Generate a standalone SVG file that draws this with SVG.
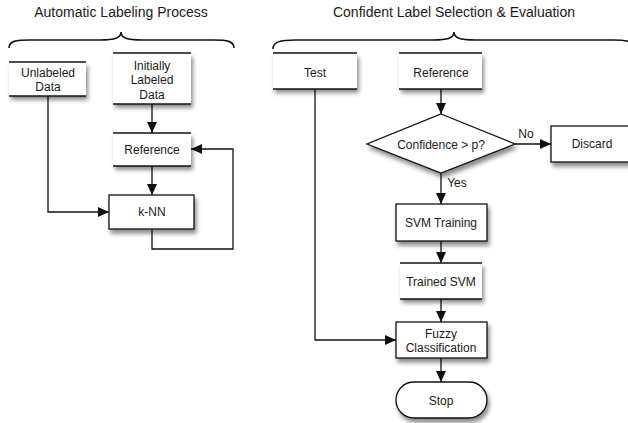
<svg xmlns="http://www.w3.org/2000/svg" width="628" height="423" viewBox="0 0 628 423">
<style>
text{font-family:"Liberation Sans",Arial,sans-serif;fill:#1a1a1a;text-anchor:middle}
.t{font-size:14px}
.n{font-size:12px}
.box{fill:#fff;stroke:#111;stroke-width:1.3}
.ds{fill:#fff;stroke:none}
.dl{stroke:#111;stroke-width:1.3}
.c{fill:none;stroke:#111;stroke-width:1.3}
.br{fill:none;stroke:#111;stroke-width:1.6}
</style>
<defs>
<filter id="sh" x="-20%" y="-20%" width="150%" height="160%">
<feDropShadow dx="2" dy="4" stdDeviation="2" flood-color="#000" flood-opacity="0.45"/>
</filter>
<marker id="ah" markerUnits="userSpaceOnUse" markerWidth="12" markerHeight="10" refX="11" refY="5" orient="auto">
<path d="M0,0 L11,5 L0,10 Z" fill="#111"/>
</marker>
</defs>
<text class="t" x="121" y="17">Automatic Labeling Process</text>
<text class="t" x="454" y="17">Confident Label Selection &amp; Evaluation</text>
<path class="br" d="M9,48 C9,41 16,40 30,40 L100,40 C115,40 121,38 121,32 C121,38 127,40 142,40 L213,40 C227,40 234,41 234,48"/>
<path class="br" d="M273,49 C273,42 280,40 295,40 L433,40 C448,40 454,38 454,32 C454,38 460,40 475,40 L613,40 C628,40 635,42 635,49"/>
<g id="connectors">
<path class="c" d="M48,96 V212 H109" marker-end="url(#ah)"/>
<path class="c" d="M152,104 V133" marker-end="url(#ah)"/>
<path class="c" d="M152,166 V195" marker-end="url(#ah)"/>
<path class="c" d="M152,229 V249 H233 V149 H191" marker-end="url(#ah)"/>
<path class="c" d="M441,89 V114" marker-end="url(#ah)"/>
<path class="c" d="M515,144 H551" marker-end="url(#ah)"/>
<path class="c" d="M441,173 V204" marker-end="url(#ah)"/>
<path class="c" d="M441,241 V263" marker-end="url(#ah)"/>
<path class="c" d="M441,299 V322" marker-end="url(#ah)"/>
<path class="c" d="M441,358 V382" marker-end="url(#ah)"/>
<path class="c" d="M315,89 V340 H396" marker-end="url(#ah)"/>
<text class="n" x="526" y="138">No</text>
<text class="n" x="457" y="187">Yes</text>
</g>
<g id="unlabeled">
<rect class="ds" x="9" y="62" width="77" height="34" filter="url(#sh)"/>
<line class="dl" x1="9" y1="62" x2="86" y2="62"/><line class="dl" x1="9" y1="96" x2="86" y2="96"/>
<text class="n" x="48" y="77">Unlabeled</text><text class="n" x="48" y="91">Data</text>
</g>
<g id="initial">
<rect class="ds" x="113" y="53" width="78" height="51" filter="url(#sh)"/>
<line class="dl" x1="113" y1="53" x2="191" y2="53"/><line class="dl" x1="113" y1="104" x2="191" y2="104"/>
<text class="n" x="152" y="70">Initially</text><text class="n" x="152" y="84">Labeled</text><text class="n" x="152" y="99">Data</text>
</g>
<g id="reference-left">
<rect class="ds" x="113" y="133" width="78" height="33" filter="url(#sh)"/>
<line class="dl" x1="113" y1="133" x2="191" y2="133"/><line class="dl" x1="113" y1="166" x2="191" y2="166"/>
<text class="n" x="152" y="154">Reference</text>
</g>
<g id="knn">
<rect class="box" x="109" y="195" width="85" height="34" filter="url(#sh)"/>
<text class="n" x="152" y="216">k-NN</text>
</g>
<g id="test">
<rect class="ds" x="273" y="53" width="84" height="36" filter="url(#sh)"/>
<line class="dl" x1="273" y1="53" x2="357" y2="53"/><line class="dl" x1="273" y1="89" x2="357" y2="89"/>
<text class="n" x="315" y="77">Test</text>
</g>
<g id="reference-right">
<rect class="ds" x="399" y="53" width="83" height="36" filter="url(#sh)"/>
<line class="dl" x1="399" y1="53" x2="482" y2="53"/><line class="dl" x1="399" y1="89" x2="482" y2="89"/>
<text class="n" x="441" y="77">Reference</text>
</g>
<g id="decision">
<polygon class="box" points="441,114 515,144 441,173 367,144" filter="url(#sh)"/>
<text class="n" x="441" y="149">Confidence &gt; p?</text>
</g>
<g id="discard">
<rect class="box" x="551" y="126" width="83" height="36" filter="url(#sh)"/>
<text class="n" x="592" y="148">Discard</text>
</g>
<g id="svm-training">
<rect class="box" x="396" y="204" width="91" height="37" filter="url(#sh)"/>
<text class="n" x="441" y="227">SVM Training</text>
</g>
<g id="trained-svm">
<rect class="ds" x="400" y="263" width="82" height="36" filter="url(#sh)"/>
<line class="dl" x1="400" y1="263" x2="482" y2="263"/><line class="dl" x1="400" y1="299" x2="482" y2="299"/>
<text class="n" x="441" y="286">Trained SVM</text>
</g>
<g id="fuzzy">
<rect class="box" x="396" y="322" width="91" height="36" filter="url(#sh)"/>
<text class="n" x="441" y="338">Fuzzy</text><text class="n" x="441" y="352">Classification</text>
</g>
<g id="stop">
<rect class="box" x="396" y="382" width="91" height="36" rx="18" ry="18" filter="url(#sh)"/>
<text class="n" x="441" y="405">Stop</text>
</g>
</svg>
